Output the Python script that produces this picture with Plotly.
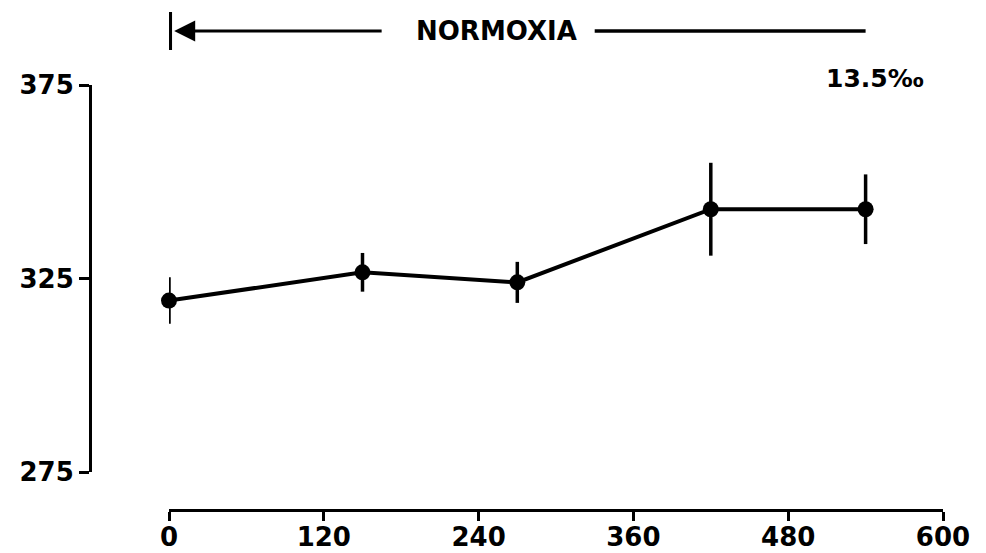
import plotly.graph_objects as go

# Data
time_min = [0, 150, 270, 420, 540]
values = [319.3, 326.6, 324.0, 342.9, 342.9]
errors = [6.0, 5.0, 5.3, 12.0, 9.0]

x_ticks = [0, 120, 240, 360, 480, 600]
x_ticklabels = ["0", "120", "240", "360", "480", "600"]
y_ticks = [275, 325, 375]
y_ticklabels = ["275", "325", "375"]

period_label = "NORMOXIA"
period_start = 0
period_end = 540
corner_label = "13.5\u2030"

FONT = "DejaVu Sans"
tickfont = dict(family=FONT, size=26, color="black", weight="bold")

fig = go.Figure()
fig.add_trace(go.Scatter(
    x=time_min, y=values,
    mode="lines+markers",
    line=dict(color="black", width=4),
    marker=dict(color="black", size=16),
    error_y=dict(type="data", array=errors, visible=True,
                 color="black", thickness=3.5, width=0),
    showlegend=False,
    hoverinfo="skip",
    cliponaxis=False,
))

W, H = 986, 553
ml, mr, mt, mb = 90, 43, 85, 43
plot_w = W - ml - mr
plot_h = H - mt - mb

x_dom0 = (169 - ml) / plot_w
y_dom0 = (510 - 472) / plot_h

def py(px):
    # convert pixel y to paper y
    return 1 + (mt - px) / plot_h

fig.update_layout(
    width=W, height=H,
    margin=dict(l=ml, r=mr, t=mt, b=mb, autoexpand=False),
    paper_bgcolor="white", plot_bgcolor="white",
    xaxis=dict(
        domain=[x_dom0, 1], range=[0, 600], anchor="free", position=0,
        tickvals=x_ticks, ticktext=x_ticklabels, automargin=False,
        showline=True, linecolor="black", linewidth=3,
        ticks="outside", ticklen=9, tickwidth=3, tickcolor="black",
        ticklabelstandoff=-6,
        showgrid=False, zeroline=False, tickfont=tickfont,
    ),
    yaxis=dict(
        domain=[y_dom0, 1], range=[275, 375], anchor="free", position=0,
        tickvals=y_ticks, ticktext=y_ticklabels, automargin=False,
        showline=True, linecolor="black", linewidth=3,
        ticks="outside", ticklen=10, tickwidth=3, tickcolor="black",
        showgrid=False, zeroline=False, tickfont=tickfont,
    ),
    annotations=[
        # left arrow
        dict(x=period_start + 4, y=py(31), xref="x", yref="paper",
             ax=166, ay=0, axref="x", ayref="pixel",
             text="", showarrow=True, arrowhead=2, arrowsize=1.4,
             arrowwidth=3, arrowcolor="black"),
        dict(x=254, y=py(31), xref="x", yref="paper", text=period_label,
             yanchor="middle", xanchor="center",
             showarrow=False, font=dict(family=FONT, size=26, color="black", weight="bold")),
        dict(x=547, y=py(78), xref="x", yref="paper", text=corner_label,
             yanchor="middle", xanchor="center",
             showarrow=False, font=dict(family=FONT, size=25, color="black", weight="bold")),
    ],
    shapes=[
        dict(type="line", xref="x", yref="paper", x0=period_start + 1, x1=period_start + 1,
             y0=py(12), y1=py(50), line=dict(color="black", width=3.5)),
        dict(type="line", xref="x", yref="paper", x0=330, x1=period_end,
             y0=py(31), y1=py(31), line=dict(color="black", width=3.5)),
    ],
)

fig.write_html("out.html")
